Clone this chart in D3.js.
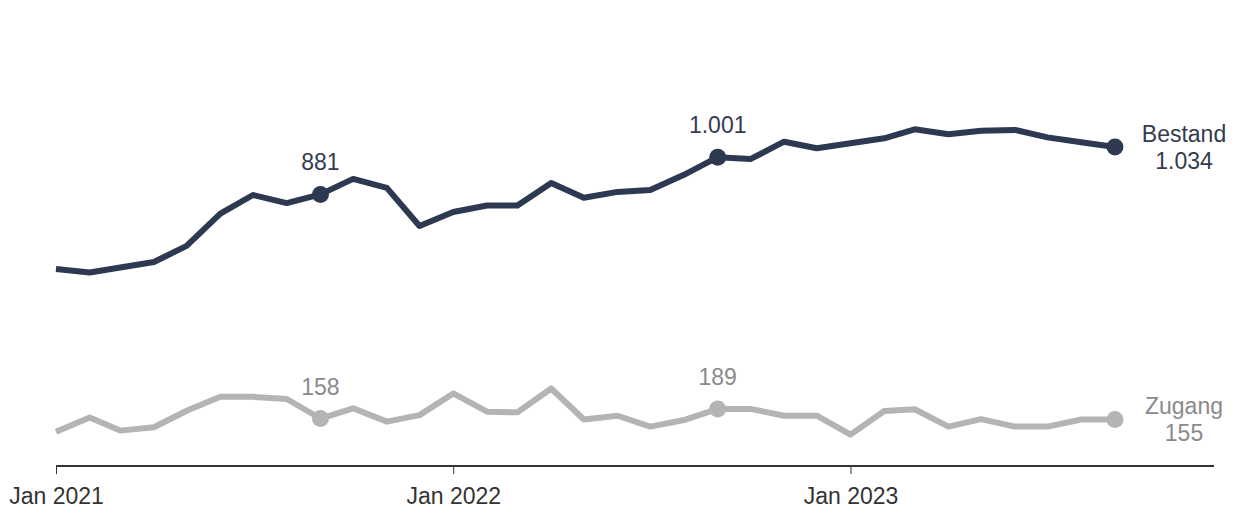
<!DOCTYPE html>
<html><head><meta charset="utf-8">
<script src="https://cdn.jsdelivr.net/npm/d3@7"></script>
<style>body{margin:0;background:#fff}svg{display:block}text{font-family:"Liberation Sans",Arial,sans-serif}</style>
</head><body><svg id="c" width="1240" height="519"></svg>
<script>
const months = d3.range(33).map(i => d3.utcMonth.offset(new Date(Date.UTC(2021,0,1)), i));
const bestand = [640,629,645,663,715,819,879,853,881,931,902,779,824,845,845,918,870,889,895,944,1001,995,1051,1030,1046,1062,1091,1075,1086,1089,1065,1049,1034];
const zugang  = [115,161,119,130,183,228,228,221,158,191,148,169,239,180,178,255,155,167,132,153,189,189,167,167,106,182,188,132,156,132,132,155,155];
const highlightIdx = [8,20,32];
const tickLabels = ["Jan 2021","Jan 2022","Jan 2023"];
const seriesNames = ["Bestand","Zugang"];

const fmt = v => d3.format(",")(v).replace(/,/g,".");
const svg = d3.select("#c");
const x = d3.scaleUtc().domain([new Date(Date.UTC(2021,0,1)), new Date(Date.UTC(2023,11,1))]).range([56,1214]);
const y = d3.scaleLinear().domain([0,1400]).range([467.5, 467.5-1400*0.31]);

const series = [
  {name:seriesNames[0], vals:bestand, color:"#2d3950", text:"#333c4e"},
  {name:seriesNames[1], vals:zugang, color:"#b4b4b4", text:"#8a8a8a"}
];

const FS = 23;
const tickDates = [0,1,2].map(k => new Date(Date.UTC(2021+k,0,1)));
const ax = svg.append("g").attr("transform","translate(0,466)")
  .call(d3.axisBottom(x).tickValues(tickDates).tickSize(8).tickPadding(14).tickFormat((d,i)=>tickLabels[i]));
ax.select(".domain").attr("stroke","#333").attr("stroke-width",2).attr("d","M56,0H1214");
ax.selectAll(".tick line").attr("stroke","#333").attr("stroke-width",1);
ax.selectAll(".tick text").attr("font-size",FS).attr("fill","#333").attr("font-family","Liberation Sans, Arial, sans-serif");

const line = d3.line().x((d,i)=>x(months[i])).y(d=>y(d));
series.forEach(s=>{
  svg.append("path").datum(s.vals).attr("d",line).attr("fill","none")
    .attr("stroke",s.color).attr("stroke-width",6).attr("stroke-linejoin","round");
  highlightIdx.forEach(i=>{
    svg.append("circle").attr("cx",x(months[i])).attr("cy",y(s.vals[i])).attr("r",8.5).attr("fill",s.color);
  });
  highlightIdx.slice(0,2).forEach(i=>{
    svg.append("text").attr("x",x(months[i])).attr("y",y(s.vals[i])-24)
      .attr("text-anchor","middle").attr("font-size",FS).attr("fill",s.text).text(fmt(s.vals[i]));
  });
  const li = 32, ly = y(s.vals[li]);
  const t = svg.append("text").attr("x",1184).attr("y",ly-5).attr("text-anchor","middle")
    .attr("font-size",FS).attr("fill",s.text);
  t.append("tspan").attr("x",1184).text(s.name);
  t.append("tspan").attr("x",1184).attr("dy",27).text(fmt(s.vals[li]));
});
</script></body></html>
